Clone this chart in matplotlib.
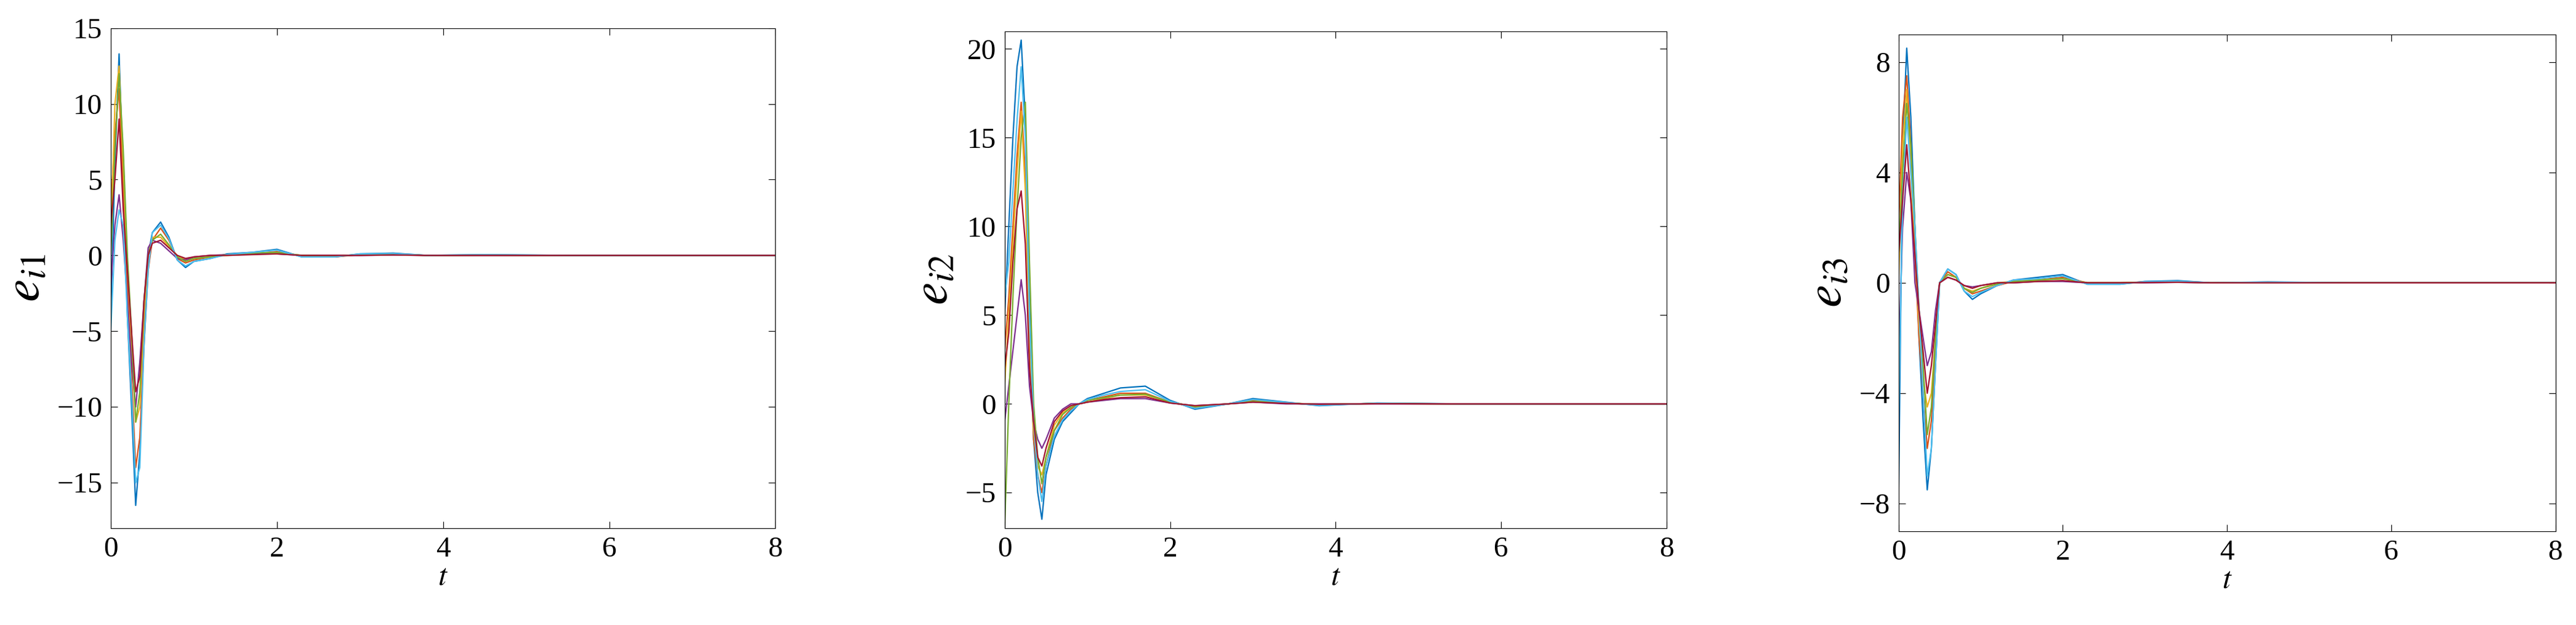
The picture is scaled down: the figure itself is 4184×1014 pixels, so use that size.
import matplotlib
matplotlib.use("Agg")
import matplotlib.pyplot as plt

t = [0,0.05,0.1,0.15,0.2,0.25,0.3,0.35,0.4,0.45,0.5,0.6,0.7,0.8,0.9,1.0,1.2,1.4,1.7,2.0,2.3,2.7,3.0,3.4,3.8,4.5,5.5,8]
colors = ["#0072BD","#D95319","#EDB120","#7E2F8E","#77AC30","#4DBEEE","#A2142F"]

e1 = [
 [-4,6,13.3,5,-4,-10,-16.5,-13,-5,0,1.5,2.2,1.2,-0.3,-0.8,-0.4,-0.2,0.1,0.2,0.4,-0.1,-0.1,0.1,0.15,0,0.05,0,0],
 [3,8,11,4,-2,-8,-14,-12,-6,-1,1,1.8,1.0,-0.2,-0.5,-0.3,-0.1,0.05,0.1,0.25,-0.05,-0.1,0.05,0.1,0,0.02,0,0],
 [1,10,12.5,6,-1,-6,-11,-10,-4,0,1.2,1.2,0.6,0,-0.3,-0.2,-0.1,0,0.1,0.15,0,-0.05,0.05,0.05,0,0,0,0],
 [-2,2,4,1,-3,-7,-10,-7,-3,0.5,1,0.8,0.3,-0.2,-0.3,-0.1,0,0.05,0.1,0.1,0,0,0,0.03,0,0,0,0],
 [0,7,12,7,0,-5,-11,-9,-3,0,1,1.4,0.7,-0.1,-0.4,-0.2,-0.1,0.05,0.15,0.2,0,-0.05,0.05,0.08,0,0.02,0,0],
 [-5,1,3,2,-4,-9,-15,-14,-6,-1,1.5,2.0,1.1,-0.3,-0.7,-0.4,-0.2,0.05,0.2,0.35,-0.1,-0.1,0.1,0.12,0,0.04,0,0],
 [2,5,9,3,-1,-5,-9,-8,-3,0,0.8,1.0,0.5,0,-0.2,-0.1,0,0,0.05,0.1,0,0,0,0.03,0,0,0,0],
]
e2 = [
 [5,10,15,19,20.5,16,6,-2,-5,-6.5,-4,-2,-1,-0.5,0,0.3,0.6,0.9,1.0,0.2,-0.3,0,0.3,0.1,-0.1,0.05,0,0],
 [3,6,10,14,17,13,4,-2,-4,-5,-3.5,-1.5,-0.8,-0.3,0,0.2,0.4,0.6,0.6,0.1,-0.2,0,0.2,0.05,-0.05,0.03,0,0],
 [1,5,9,13,16.5,12,3,-1.5,-3.5,-4,-3,-1.2,-0.5,-0.2,0,0.1,0.3,0.5,0.5,0.1,-0.15,0,0.15,0.05,-0.03,0.02,0,0],
 [-1,1,3,5,7,5,1,-1,-2,-2.5,-2,-0.8,-0.3,0,0,0.1,0.2,0.3,0.3,0.05,-0.1,0,0.1,0,0,0,0,0],
 [-7,0,6,11,15,17,8,0,-3,-4.5,-3,-1.5,-0.6,-0.2,0,0.2,0.35,0.5,0.55,0.1,-0.15,0,0.15,0.05,-0.03,0.02,0,0],
 [6,8,12,16,19,15,5,-1,-4,-5.5,-3.5,-1.8,-0.9,-0.4,0,0.25,0.5,0.7,0.8,0.15,-0.25,0,0.25,0.08,-0.08,0.04,0,0],
 [2,4,8,11,12,9,2,-1,-3,-3.5,-2.5,-1,-0.4,-0.1,0,0.1,0.25,0.35,0.4,0.05,-0.1,0,0.1,0.03,-0.02,0.01,0,0],
]
e3 = [
 [-8,5,8.5,6,2,-2,-5,-7.5,-6,-3,0,0.5,0.3,-0.3,-0.6,-0.4,-0.1,0.1,0.2,0.3,-0.05,-0.05,0.05,0.08,0,0.03,0,0],
 [2,6,7.5,5,1,-2,-4,-6,-5,-2.5,0,0.4,0.2,-0.2,-0.4,-0.3,-0.1,0.05,0.1,0.2,0,0,0.03,0.05,0,0.02,0,0],
 [0,5,7,4,1,-1.5,-3.5,-4.5,-4,-2,0,0.3,0.2,-0.2,-0.3,-0.2,0,0.05,0.1,0.15,0,0,0.02,0.03,0,0,0,0],
 [-3,2,4,3,0,-1,-2,-3,-2.5,-1,0,0.2,0.1,-0.1,-0.15,-0.1,0,0,0.05,0.05,0,0,0,0.02,0,0,0,0],
 [1,4,6.5,5,2,-1,-3,-5.5,-4.5,-2,0,0.3,0.2,-0.2,-0.35,-0.2,-0.05,0.05,0.1,0.15,0,0,0.02,0.04,0,0.01,0,0],
 [-5,3,6,4,2,-1,-4,-7,-6,-3,0,0.5,0.3,-0.3,-0.5,-0.35,-0.1,0.1,0.15,0.25,-0.05,-0.05,0.04,0.06,0,0.02,0,0],
 [1,3,5,3,1,-1,-2.5,-4,-3,-1.5,0,0.2,0.1,-0.1,-0.2,-0.1,0,0,0.05,0.08,0,0,0.01,0.02,0,0,0,0],
]

panels = [
 (e1, (-18, 15), [-15,-10,-5,0,5,10,15], r"$e_{i1}$", [0.043,0.045,0.258,0.80]),
 (e2, (-7, 21), [-5,0,5,10,15,20], r"$e_{i2}$", [0.390,0.050,0.257,0.795]),
 (e3, (-9, 9), [-8,-4,0,4,8], r"$e_{i3}$", [0.737,0.055,0.255,0.795]),
]

plt.rcParams['font.family'] = 'serif'
plt.rcParams['font.serif'] = ['Liberation Serif', 'DejaVu Serif']
plt.rcParams['mathtext.fontset'] = 'stix'
fig = plt.figure(figsize=(41.84, 10.14), dpi=100)
for data, ylim, yt, lab, rect in panels:
    r = [rect[0], 1 - rect[1] - rect[3], rect[2], rect[3]]
    ax = fig.add_axes(r)
    for s, c in zip(data, colors):
        ax.plot(t, s, color=c, lw=1.6)
    ax.set_xlim(0, 8)
    ax.set_ylim(*ylim)
    ax.set_xticks([0,2,4,6,8])
    ax.set_yticks(yt)
    ax.tick_params(direction='in', labelsize=34, length=8, top=True, right=True, pad=10)
    for lb in ax.get_xticklabels() + ax.get_yticklabels():
        lb.set_family('Liberation Serif')
    ax.set_xlabel(r"$t$", fontsize=36, labelpad=0)
    ax.set_ylabel(lab, fontsize=60, labelpad=8)
fig.savefig("out.png", dpi=100, facecolor="white")
